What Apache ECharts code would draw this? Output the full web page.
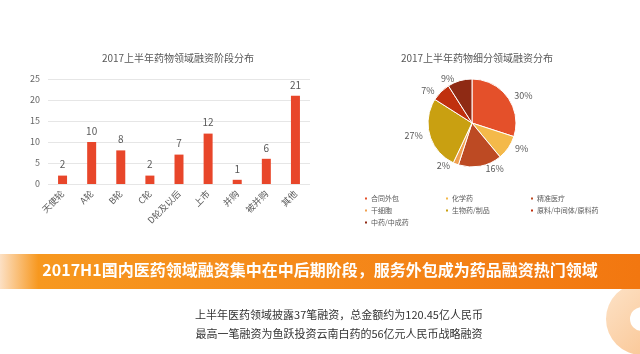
<!DOCTYPE html>
<html>
<head>
<meta charset="utf-8">
<script src="https://cdn.jsdelivr.net/npm/echarts@6/dist/echarts.min.js"></script>
<style>
  html, body { margin: 0; padding: 0; background: #fff; }
  #chart { width: 640px; height: 354px; }
</style>
</head>
<body>
<div id="chart"></div>
<script>
// 融资阶段分布
const stageNames = ['天使轮', 'A轮', 'B轮', 'C轮', 'D轮及以后', '上市', '并购', '被并购', '其他']
const stageCounts = [2, 10, 8, 2, 7, 12, 1, 6, 21]
const yTicks = [0, 5, 10, 15, 20, 25]

// 细分领域分布 (%)
const fieldNames = ['合同外包', '化学药', '精准医疗', '干细胞', '生物药/制品', '原料/中间体/原料药', '中药/中成药']
const fieldShares = [30, 9, 16, 2, 27, 7, 9]
const fieldColors = ['#E4502A', '#F4B94A', '#BD4A23', '#F0A050', '#C9A011', '#C0300E', '#8F2A14']

const headline = '2017H1国内医药领域融资集中在中后期阶段，服务外包成为药品融资热门领域'
const notes = [
  '上半年医药领域披露37笔融资，总金额约为120.45亿人民币',
  '最高一笔融资为鱼跃投资云南白药的56亿元人民币战略融资'
]

const FONT = '"Noto Sans CJK SC", "Noto Sans", sans-serif'
const chart = echarts.init(document.getElementById('chart'))

const legendCols = [
  { left: 358, names: [fieldNames[0], fieldNames[3], fieldNames[6]] },
  { left: 439, names: [fieldNames[1], fieldNames[4]] },
  { left: 524, names: [fieldNames[2], fieldNames[5]] }
]

const option = {
  backgroundColor: '#fff',
  textStyle: { fontFamily: FONT },
  title: [
    {
      text: '2017上半年药物领域融资阶段分布',
      left: 173, top: 48, textAlign: 'center',
      textStyle: { fontSize: 10, fontWeight: 'normal', color: '#595959', fontFamily: FONT }
    },
    {
      text: '2017上半年药物细分领域融资分布',
      left: 472, top: 48, textAlign: 'center',
      textStyle: { fontSize: 10, fontWeight: 'normal', color: '#595959', fontFamily: FONT }
    }
  ],
  legend: legendCols.map(c => ({
    data: c.names.map(n => ({ name: n, icon: 'rect' })),
    orient: 'vertical',
    left: c.left, top: 190,
    itemWidth: 4, itemHeight: 4, itemGap: 5,
    textStyle: { fontSize: 7, color: '#595959', fontFamily: FONT, padding: [0, 0, 0, -2] },
    selectedMode: false
  })),
  grid: { left: 48, right: 330, top: 79, bottom: 170 },
  xAxis: {
    type: 'category',
    data: stageNames,
    axisLine: { show: false },
    axisTick: { show: false },
    axisLabel: { rotate: 45, fontSize: 9, color: '#595959', margin: 8, interval: 0 }
  },
  yAxis: {
    type: 'value',
    min: yTicks[0], max: yTicks[yTicks.length - 1], interval: 5,
    axisLine: { show: false },
    axisTick: { show: false },
    axisLabel: { fontSize: 9, color: '#666', margin: 8 },
    splitLine: { lineStyle: { color: '#e6e6e6' } }
  },
  series: [
    {
      type: 'bar',
      data: stageCounts,
      barWidth: 9,
      itemStyle: { color: '#E8462A' },
      label: { show: true, position: 'top', fontSize: 10, color: '#595959', distance: 6 }
    },
    {
      type: 'pie',
      center: [472, 123],
      radius: [0, 44],
      startAngle: 90,
      clockwise: true,
      data: fieldNames.map((n, i) => ({ name: n, value: fieldShares[i], itemStyle: { color: fieldColors[i] } })),
      itemStyle: { borderColor: '#fff', borderWidth: 1 },
      label: { show: true, position: 'outside', formatter: '{c}%', fontSize: 9, color: '#595959' },
      labelLine: { show: false, length: 2, length2: 0 },
      emphasis: { disabled: true }
    }
  ],
  graphic: [
    {
      type: 'ring', z: 1,
      shape: { cx: 642, cy: 319, r: 36, r0: 12 },
      style: {
        fill: new echarts.graphic.LinearGradient(0, 0, 1, 1, [
          { offset: 0, color: '#FDE3C8' },
          { offset: 1, color: '#F9C08A' }
        ])
      }
    },
    {
      type: 'rect', z: 2,
      shape: { x: 0, y: 254, width: 640, height: 35 },
      style: {
        fill: new echarts.graphic.LinearGradient(0, 0, 1, 0, [
          { offset: 0, color: '#FCE0C4' },
          { offset: 0.06, color: '#F7981F' },
          { offset: 0.5, color: '#F5891A' },
          { offset: 1, color: '#F27710' }
        ])
      }
    },
    {
      type: 'text', z: 3,
      left: 'center', top: 262,
      style: { text: headline, fill: '#fff', font: 'bold 16px ' + FONT }
    },
    {
      type: 'text', z: 3,
      x: 339, y: 315,
      style: { text: notes[0], fill: '#333', font: '11px ' + FONT, align: 'center', verticalAlign: 'middle' }
    },
    {
      type: 'text', z: 3,
      x: 339, y: 334,
      style: { text: notes[1], fill: '#333', font: '11px ' + FONT, align: 'center', verticalAlign: 'middle' }
    }
  ]
}

chart.setOption(option)
</script>
</body>
</html>
